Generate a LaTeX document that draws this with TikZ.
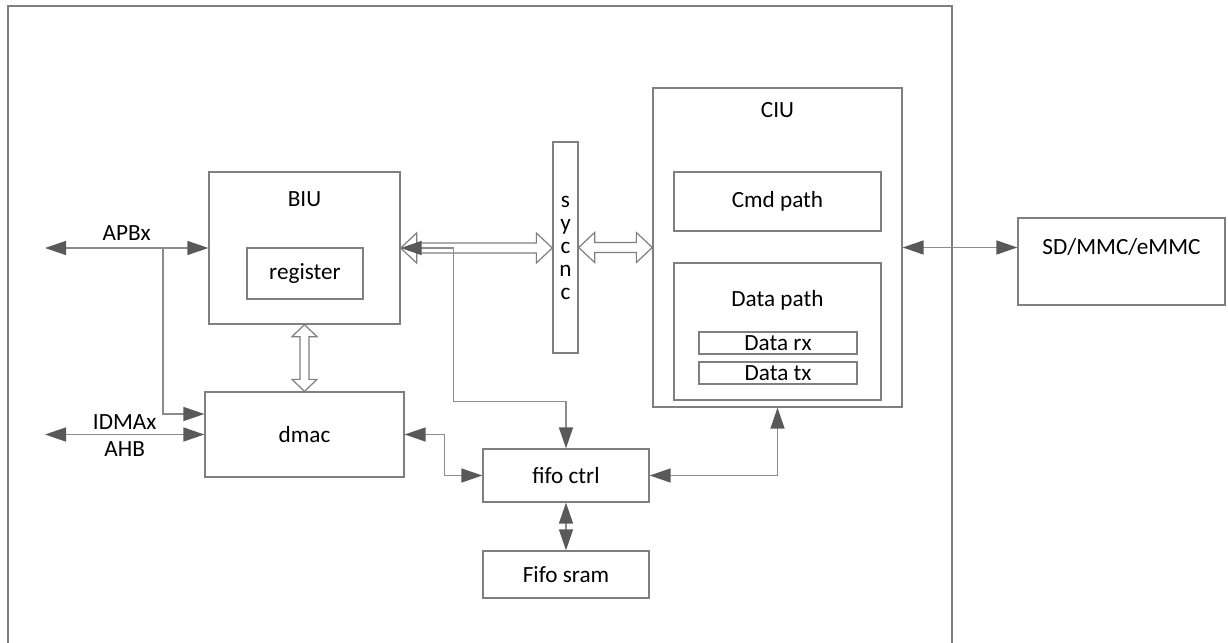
\documentclass[tikz,border=0pt]{standalone}
\usepackage{fontspec}
\setmainfont{Carlito}
\usetikzlibrary{arrows.meta,calc}

\definecolor{boxgray}{HTML}{7F7F7F}
\definecolor{linegray}{HTML}{8C8C8C}
\definecolor{tipgray}{HTML}{595959}

% hollow double arrows (horizontal / vertical)
\newcommand{\hollowh}[2]{%
  \draw[hollow] let \p1=(#1), \p2=(#2) in
    (\x1,\y1) -- (\x1+8pt,\y1+7.5pt) -- (\x1+8pt,\y1+2.5pt)
    -- (\x2-8pt,\y1+2.5pt) -- (\x2-8pt,\y1+7.5pt) -- (\x2,\y1)
    -- (\x2-8pt,\y1-7.5pt) -- (\x2-8pt,\y1-2.5pt)
    -- (\x1+8pt,\y1-2.5pt) -- (\x1+8pt,\y1-7.5pt) -- cycle;}
\newcommand{\hollowv}[2]{%
  \draw[hollow] let \p1=(#1), \p2=(#2) in
    (\x1,\y1) -- (\x1+6.25pt,\y1-6pt) -- (\x1+2.25pt,\y1-6pt)
    -- (\x1+2.25pt,\y2+6pt) -- (\x1+6.25pt,\y2+6pt) -- (\x1,\y2)
    -- (\x1-6.25pt,\y2+6pt) -- (\x1-2.25pt,\y2+6pt)
    -- (\x1-2.25pt,\y1-6pt) -- (\x1-6.25pt,\y1-6pt) -- cycle;}

\begin{document}
\begin{tikzpicture}[x=0.5pt,y=-0.5pt,
    >={Triangle[length=10.5pt,width=7pt]},
    font=\fontsize{11.6}{11.5}\selectfont,
    blk/.style={draw=boxgray,line width=0.65pt,inner sep=0pt,fill=white},
    link/.style={draw=linegray,line width=0.7pt,arrows={[color=tipgray]}},
    hollow/.style={draw=boxgray,line width=0.6pt,fill=white,line join=miter},
    frame/.style={draw=boxgray,line width=0.65pt}]

\useasboundingbox (0,0) rectangle (1228,643);

% Outer frame
\draw[frame] (8,643) |- (952,6) -- (952,643);

% BIU
\node[blk,minimum width=95.5pt,minimum height=76pt,
      label={[anchor=center,yshift=-14pt]north:BIU}] (biu) at (304.5,248) {};
\node[blk,minimum width=58pt,minimum height=25.5pt] (register) at (305,273.5) {register};

% sync
\node[blk,minimum width=12.5pt,minimum height=105.5pt,align=center]
    (sync) at (565.5,247.5) {s\\y\\c\\n\\c};

% CIU
\node[blk,minimum width=124.5pt,minimum height=159.5pt,
      label={[anchor=center,yshift=-11.5pt]north:CIU}] (ciu) at (777.5,247.5) {};
\node[blk,minimum width=103.5pt,minimum height=29.5pt] (cmd) at (777.5,201.5) {Cmd path};
\node[blk,minimum width=103.5pt,minimum height=68.5pt,
      label={[anchor=center,yshift=-19pt]north:Data path}] (datapath) at (777.5,331.5) {};
\node[blk,minimum width=79pt,minimum height=11pt] (datarx) at (778,343) {Data rx};
\node[blk,minimum width=79pt,minimum height=11pt] (datatx) at (778,373) {Data tx};

% Card
\node[blk,minimum width=103.5pt,minimum height=43.5pt,
      label={[anchor=center,yshift=-15pt]north:SD/MMC/eMMC}] (sd) at (1121.5,261.5) {};

% dmac and fifo
\node[blk,minimum width=99.5pt,minimum height=42.5pt] (dmac) at (304.5,434.5) {dmac};
\node[blk,minimum width=83pt,minimum height=26.5pt] (fifoctrl) at (566,475.5) {fifo ctrl};
\node[blk,minimum width=83pt,minimum height=23.5pt] (fifosram) at (566,574.5) {Fifo sram};

% Bus ends
\coordinate (apbx) at (45,248);
\coordinate (idma) at (45,434.5);
\coordinate (tap) at (163,248);

% Hollow buses
\hollowh{biu.east}{sync.west}
\hollowh{sync.east}{ciu.west}
\hollowv{biu.south}{dmac.north}

% Connectors
\draw[link,<->] (apbx) -- node[above,text=black]{APBx} (biu.west);
\draw[link,->] (tap) |- ([yshift=10.25pt]dmac.west);
\draw[link,<->] (idma) -- node[above,inner sep=2pt]{IDMAx}
    node[below]{AHB} (dmac.west);
\draw[link,<->] (biu.east) -- ++(53,0) |- ($(fifoctrl.north)+(0,-47)$)
    -- (fifoctrl.north);
\draw[link,<->] (dmac.east) -- ++(40,0) |- (fifoctrl.west);
\draw[link,<->] (fifoctrl.east) -| (ciu.south);
\draw[link,<->] (fifoctrl) -- (fifosram);
\draw[link,<->] (ciu.east) -- (ciu.east -| sd.west);

\end{tikzpicture}
\end{document}
